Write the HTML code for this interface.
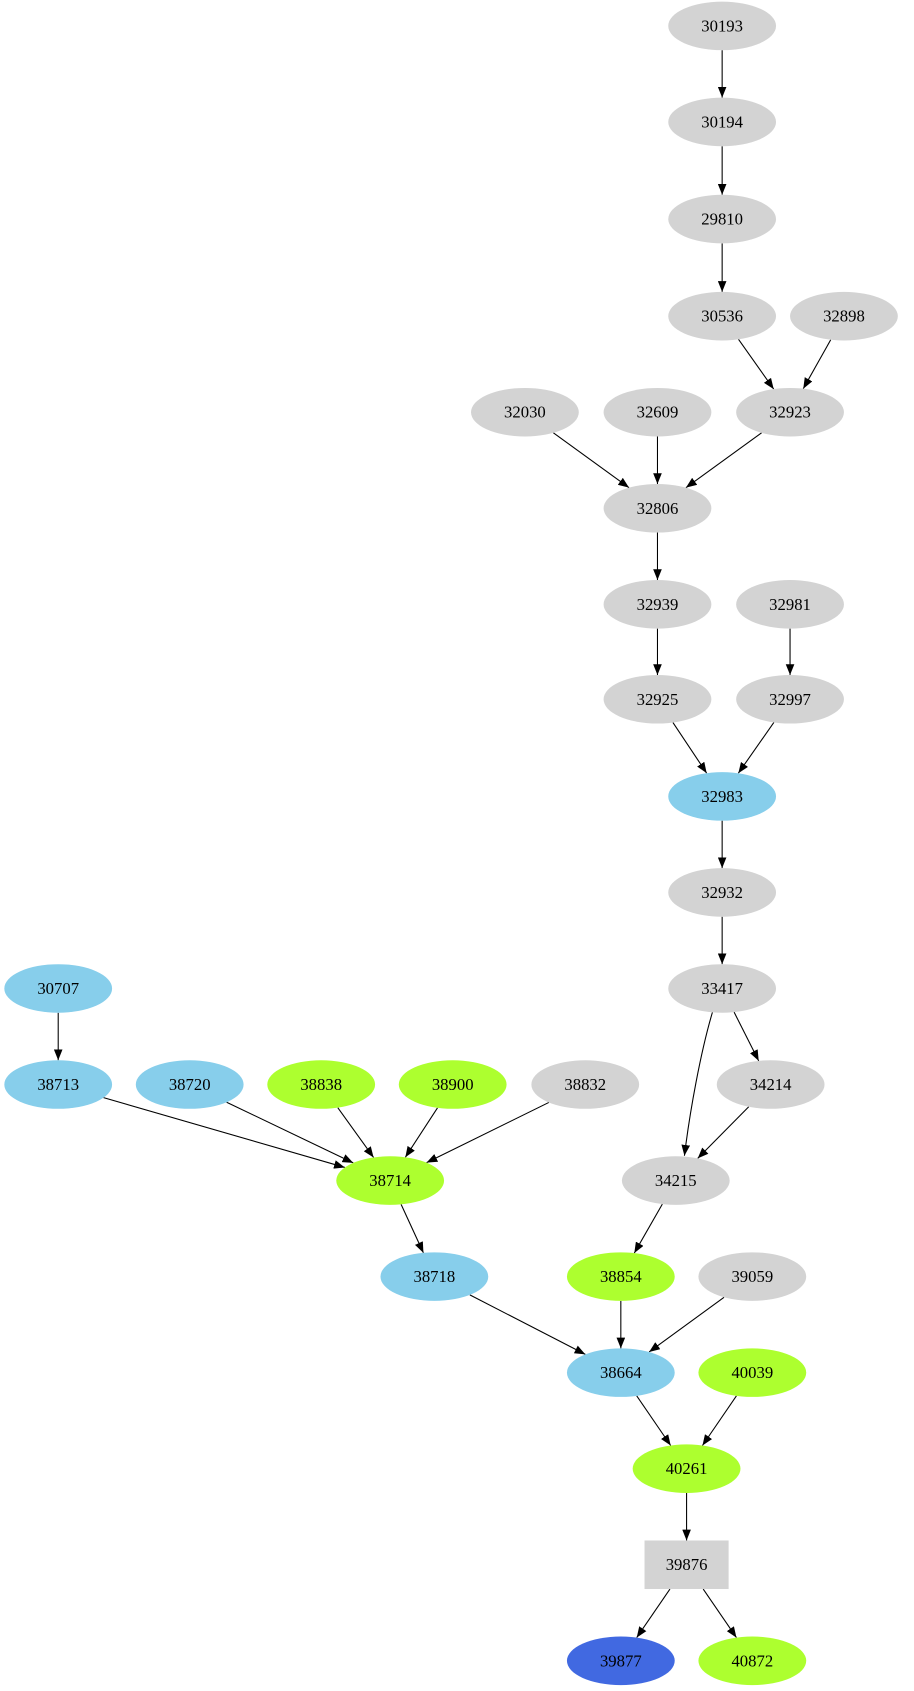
<!DOCTYPE html>
<html><head><meta charset="utf-8"><style>
html,body{margin:0;padding:0;background:#fff;}
svg{display:block}
text{font-family:"Liberation Serif",serif;font-size:15.5px;text-anchor:middle;dominant-baseline:central;fill:#000}
</style></head><body>
<svg id="g" width="914" height="1691" viewBox="0 0 848 1567" preserveAspectRatio="none" xmlns="http://www.w3.org/2000/svg">
<defs><marker id="a" markerWidth="10" markerHeight="8" refX="10" refY="4" orient="auto" markerUnits="userSpaceOnUse"><path d="M0,0 L10,4 L0,8 z" fill="#000"/></marker></defs>
</svg>
<script>
var G='#d3d3d3',B='#87ceeb',L='#adff2f',R='#4169e1';
var N={
'30193':[670,24,G],'30194':[670,113,G],'29810':[670,203,G],'30536':[670,293,G],'32898':[783,293,G],
'32030':[487,382,G],'32609':[610,382,G],'32923':[733,382,G],'32806':[610,471,G],'32939':[610,560,G],
'32981':[733,560,G],'32925':[610,648,G],'32997':[733,648,G],'32983':[670,738,B],'32932':[670,827,G],
'33417':[670,916,G],'34214':[715,1005,G],'34215':[627,1094,G],'30707':[54,916,B],'38713':[54,1005,B],
'38720':[176,1005,B],'38838':[298,1005,L],'38900':[420,1005,L],'38832':[543,1005,G],'38714':[362,1094,L],
'38718':[403,1183,B],'38854':[576,1183,L],'39059':[698,1183,G],'38664':[576,1272,B],'40039':[698,1272,L],
'40261':[637,1361,L],'39876':[637,1450,G,1],'39877':[576,1539,R],'40872':[698,1539,L]};
var E=[['30193','30194'],['30194','29810'],['29810','30536'],['30536','32923'],['32898','32923'],
['32030','32806'],['32609','32806'],['32923','32806'],['32806','32939'],['32939','32925'],['32981','32997'],
['32925','32983'],['32997','32983'],['32983','32932'],['32932','33417'],['33417','34214'],['34214','34215'],
['30707','38713'],['38713','38714'],['38720','38714'],['38838','38714'],['38900','38714'],['38832','38714'],
['38714','38718'],['34215','38854'],['38718','38664'],['38854','38664'],['39059','38664'],['38664','40261'],
['40039','40261'],['40261','39876'],['39876','39877'],['39876','40872']];
var s='',rx=50,ry=22.5;
function bd(n,dx,dy){var p=N[n];if(p[3]){var t=Math.min(39/Math.abs(dx||1e-9),22.5/Math.abs(dy||1e-9));return [p[0]+dx*t,p[1]+dy*t];}
var t=1/Math.sqrt(dx*dx/(rx*rx)+dy*dy/(ry*ry));return [p[0]+dx*t,p[1]+dy*t];}
E.forEach(function(e){var a=N[e[0]],b=N[e[1]],dx=b[0]-a[0],dy=b[1]-a[1];
var p=bd(e[0],dx,dy),q=bd(e[1],-dx,-dy);
s+='<line x1="'+p[0]+'" y1="'+p[1]+'" x2="'+q[0]+'" y2="'+q[1]+'" stroke="#000" stroke-width="1" marker-end="url(#a)"/>';});
s+='<path d="M661,938 C650,975 640,1030 635,1071" fill="none" stroke="#000" marker-end="url(#a)"/>';
for(var k in N){var p=N[k];
if(p[3])s+='<rect x="'+(p[0]-39)+'" y="'+(p[1]-22.5)+'" width="78" height="45" fill="'+p[2]+'"/>';
else s+='<ellipse cx="'+p[0]+'" cy="'+p[1]+'" rx="'+rx+'" ry="'+ry+'" fill="'+p[2]+'"/>';
s+='<text x="'+p[0]+'" y="'+p[1]+'">'+k+'</text>';}
document.getElementById('g').insertAdjacentHTML('beforeend',s);
</script>
</body></html>
